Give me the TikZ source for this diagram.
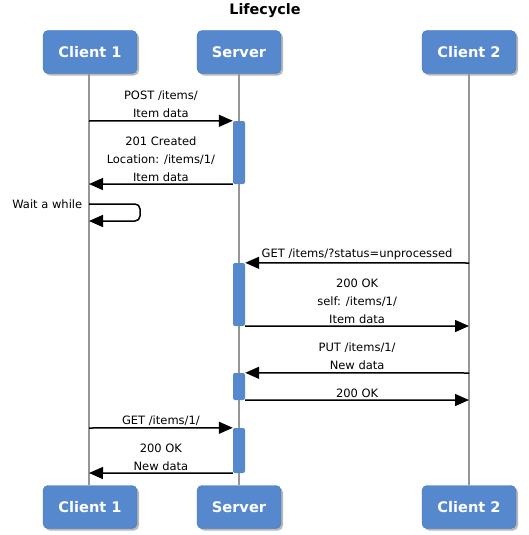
\documentclass[tikz,border=0pt]{standalone}
\usepackage{fontspec}
\setmainfont{DejaVu Sans}
\usetikzlibrary{arrows.meta,shadows,positioning}
\definecolor{boxblue}{RGB}{86,136,206}
\definecolor{boxedge}{RGB}{72,118,184}
\definecolor{lifegray}{RGB}{150,150,150}

\begin{document}
\begin{tikzpicture}[x=1pt, y=-1pt]
\tikzset{
    actor/.style={rectangle, rounded corners=5pt, fill=boxblue, draw=boxedge, text=white, font=\bfseries\fontsize{14.6}{16}\selectfont, minimum height=43pt, drop shadow={shadow xshift=2pt, shadow yshift=-2pt, fill=black!55}},
    life/.style={draw=lifegray, line width=1.4pt},
    bar/.style={rectangle, rounded corners=2pt, fill=boxblue, draw=none, minimum width=12pt, inner sep=0pt},
    msg/.style={-{Triangle[length=14pt, width=12pt]}, line width=1.5pt},
    lbl/.style={font=\fontsize{11.5}{18}\selectfont, align=center, inner sep=0pt}
}
\useasboundingbox (0,0) rectangle (529,535);

% title
\node[font=\bfseries\fontsize{14.4}{16}\selectfont] (title) at (265,11) {Lifecycle};

% participants
\node[actor, minimum width=94pt] (c1top) at (90,52) {Client 1};
\node[actor, minimum width=84pt] (srvtop) at (239,52) {Server};
\node[actor, minimum width=94pt] (c2top) at (469,52) {Client 2};
\node[actor, minimum width=94pt] (c1bot) at (90,507) {Client 1};
\node[actor, minimum width=84pt] (srvbot) at (239,507) {Server};
\node[actor, minimum width=94pt] (c2bot) at (469,507) {Client 2};

% lifelines
\draw[life] (c1top.south -| 89,0) -- (c1bot.north -| 89,0);
\draw[life] (srvtop) -- (srvbot);
\draw[life] (c2top) -- (c2bot);

% activations
\node[bar, minimum height=63pt] (act1) at (239,152.5) {};
\node[bar, minimum height=63pt] (act2) at (239,294.5) {};
\node[bar, minimum height=27pt] (act3) at (239,386.5) {};
\node[bar, minimum height=45pt] (act4) at (239,450.5) {};

% message ends
\coordinate (post) at (89,121);
\coordinate (created) at (89,184);
\coordinate (wait1) at (89,204);
\coordinate (wait2) at (89,221);
\coordinate (getall) at (469,263);
\coordinate (ok1) at (469,326);
\coordinate (put) at (469,373);
\coordinate (ok2) at (469,400);
\coordinate (getone) at (89,428);
\coordinate (ok3) at (89,473);

% arrows
\draw[msg] (post) -- node[lbl, above=2pt] {POST /items/\\Item data} (act1.north west);
\draw[msg] (act1.south west) -- node[lbl, above=2pt] {201 Created\\Location: /items/1/\\Item data} (created);
\draw[msg, rounded corners=5pt] (wait1) node[lbl, left=6pt] {Wait a while} -- ++(51,0) |- (wait2);
\draw[msg] (getall) -- node[lbl, above=2pt] {GET /items/?status=unprocessed} (act2.north east);
\draw[msg] (act2.south east) -- node[lbl, above=2pt] {200 OK\\self: /items/1/\\Item data} (ok1);
\draw[msg] (put) -- node[lbl, above=2pt] {PUT /items/1/\\New data} (act3.north east);
\draw[msg] (act3.south east) -- node[lbl, above=2pt] {200 OK} (ok2);
\draw[msg] (getone) -- node[lbl, above=2pt] {GET /items/1/} (act4.north west);
\draw[msg] (act4.south west) -- node[lbl, above=2pt] {200 OK\\New data} (ok3);

\end{tikzpicture}
\end{document}
